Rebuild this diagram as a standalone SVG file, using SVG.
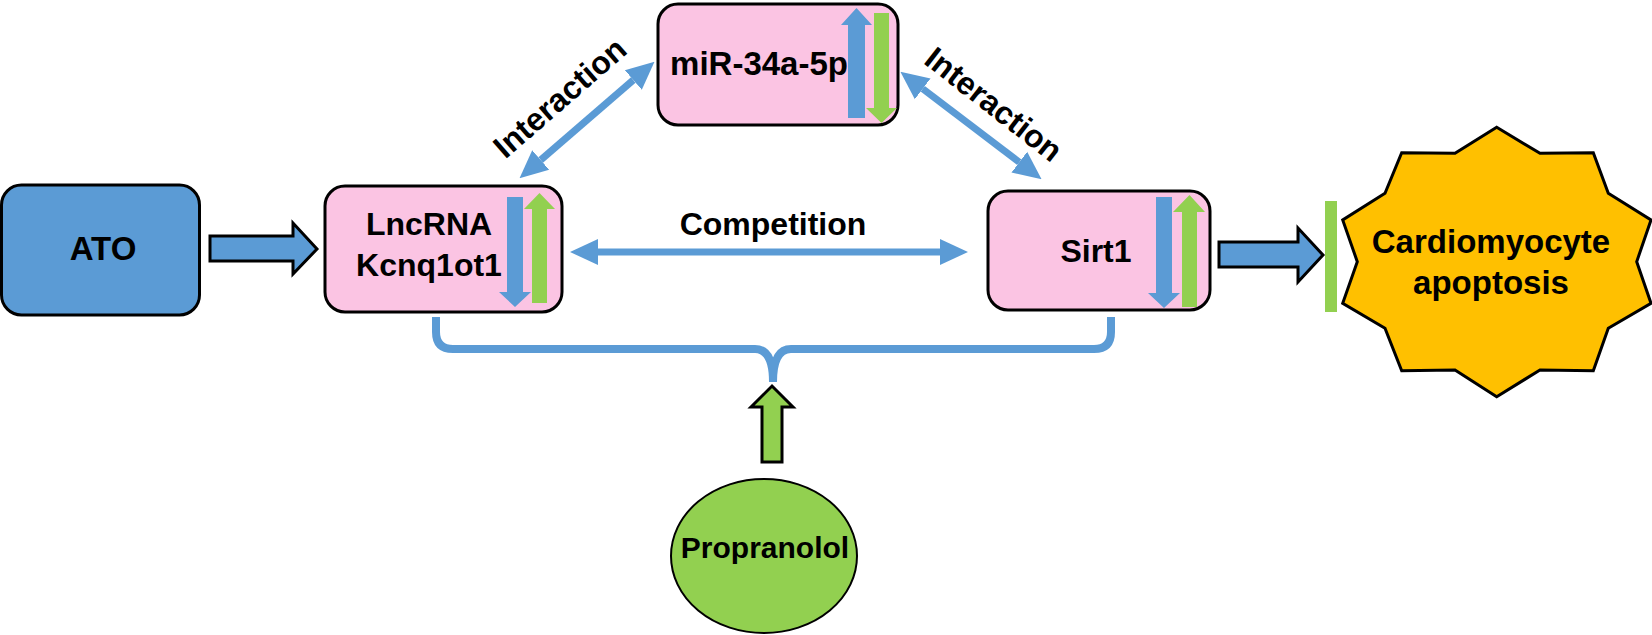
<svg xmlns="http://www.w3.org/2000/svg" width="1652" height="635" viewBox="0 0 1652 635">
<style>
.t{font-family:"Liberation Sans",Arial,sans-serif;font-weight:bold;font-size:32px;fill:#000;text-anchor:middle}
.box{fill:#FBC4E3;stroke:#000;stroke-width:3}
.blk{fill:#5B9BD5;stroke:#000;stroke-width:3}
.bl{fill:#5B9BD5}
.gr{fill:#92D050}
.ln{stroke:#5B9BD5;stroke-width:7;fill:none}
</style>
<defs>
<marker id="ah" markerUnits="userSpaceOnUse" markerWidth="28" markerHeight="28" refX="0" refY="13" orient="auto-start-reverse" viewBox="0 0 28 26">
<path d="M0,0 L28,13 L0,26 Z" fill="#5B9BD5"/>
</marker>
</defs>
<g id="connectors">
<polygon class="blk" points="210,236 293,236 293,223 317,249 293,274 293,261 210,261"/>
<polygon class="blk" points="1219,242 1298,242 1298,228 1323,255 1298,282 1298,267 1219,267"/>
<line class="ln" x1="598" y1="252" x2="940" y2="252" marker-start="url(#ah)" marker-end="url(#ah)"/>
<line class="ln" x1="540.7" y1="160" x2="633.3" y2="80" marker-start="url(#ah)" marker-end="url(#ah)"/>
<line class="ln" x1="922.7" y1="88.8" x2="1019.3" y2="162.2" marker-start="url(#ah)" marker-end="url(#ah)"/>
<path d="M436,317 L436,332 Q436,349 453,349 L755,349 Q773,349 773,382 Q773,349 791,349 L1094,349 Q1111,349 1111,332 L1111,317" stroke="#5B9BD5" stroke-width="8" fill="none"/>
<rect x="1325" y="201" width="12" height="111" fill="#92D050"/>
<polygon points="762,462 762,407 751,407 772,386 793,407 782,407 782,462" fill="#92D050" stroke="#000" stroke-width="3"/>
<text class="t" transform="translate(567,106) rotate(-41)">Interaction</text>
<text class="t" transform="translate(987,113) rotate(38)">Interaction</text>
<text class="t" x="773" y="235">Competition</text>
</g>
<g id="ato">
<rect class="blk" x="1.5" y="185" width="198" height="130" rx="20"/>
<text class="t" x="103" y="260" style="font-size:33px">ATO</text>
</g>
<g id="lncrna">
<rect class="box" x="325" y="186" width="237" height="126" rx="20"/>
<text class="t" x="429" y="235">LncRNA</text>
<text class="t" x="429" y="276">Kcnq1ot1</text>
<polygon class="bl" points="507,197 523,197 523,292 531,292 515,307 499,292 507,292"/>
<polygon class="gr" points="532,303 532,209 524,209 539.5,193 555,209 547,209 547,303"/>
</g>
<g id="mir">
<rect class="box" x="658" y="4" width="240" height="121" rx="20"/>
<text class="t" x="759" y="75" style="font-size:33px">miR-34a-5p</text>
<polygon class="bl" points="848,118 848,25 841,25 856.5,8 872,25 865,25 865,118"/>
<polygon class="gr" points="874,13 889,13 889,108 897,108 881.5,123 866,108 874,108"/>
</g>
<g id="sirt1">
<rect class="box" x="988" y="191" width="222" height="119" rx="20"/>
<text class="t" x="1096" y="262">Sirt1</text>
<polygon class="bl" points="1156,197 1172,197 1172,293 1180,293 1164,308 1148,293 1156,293"/>
<polygon class="gr" points="1182,307 1182,212 1173,212 1189.5,195 1205,212 1197,212 1197,307"/>
</g>
<g id="apoptosis">
<polygon points="1496.7,127.3 1540,153.3 1593.3,152.7 1608.3,193.3 1651,220 1636.7,261.7 1651,303.3 1608.3,328.3 1593.3,370.7 1540,370 1496.7,396.7 1455,370 1401.7,370.7 1385,328.3 1342.7,303.3 1357.3,261.7 1342.7,220 1385,193.3 1401.7,152.7 1455,153.3" fill="#FFC000" stroke="#000" stroke-width="3" stroke-linejoin="miter"/>
<text class="t" x="1491" y="253" style="font-size:33px">Cardiomyocyte</text>
<text class="t" x="1491" y="294" style="font-size:33px">apoptosis</text>
</g>
<g id="propranolol">
<ellipse cx="764" cy="556" rx="93" ry="77" fill="#92D050" stroke="#000" stroke-width="2"/>
<text class="t" x="765" y="558" style="font-size:30px">Propranolol</text>
</g>
</svg>
